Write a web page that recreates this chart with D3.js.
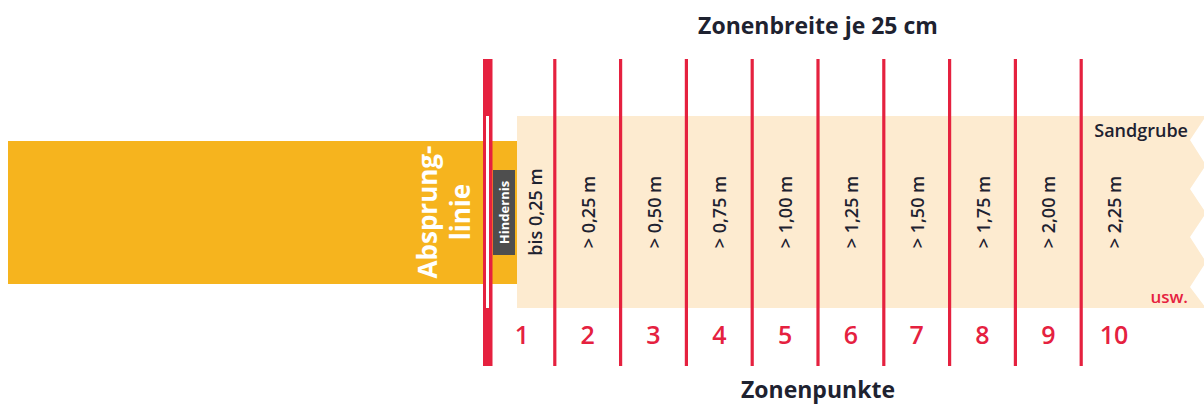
<!DOCTYPE html>
<html><head><meta charset="utf-8">
<script src="https://cdn.jsdelivr.net/npm/d3@7"></script>
<style>html,body{margin:0;padding:0;background:#fff;}svg{display:block;}</style>
</head><body>
<svg id="c" width="1204" height="406"></svg>
<script>
const zones = [1,2,3,4,5,6,7,8,9,10];
const zoneLabels = ["bis 0,25 m","> 0,25 m","> 0,50 m","> 0,75 m","> 1,00 m","> 1,25 m","> 1,50 m","> 1,75 m","> 2,00 m","> 2,25 m"];
const boundaries = [1,2,3,4,5,6,7,8,9];
const title = "Zonenbreite je 25 cm";
const subtitle = "Zonenpunkte";
const takeoffLines = ["Absprung-","linie"];
const obstacle = "Hindernis";
const pitLabel = "Sandgrube";
const moreLabel = "usw.";

const RED = "#e5213f", YELLOW = "#f6b41e", PEACH = "#fdebd0", DARK = "#1e2230", GREY = "#4e4e4e";
const FONT = "'Open Sans', 'Noto Sans', sans-serif";

const svg = d3.select("#c");
const x = d3.scaleLinear().domain([0,10]).range([489,1147]);
const y = d3.scaleLinear().domain([0,1]).range([116,308]); // sand pit vertical extent

// runway (yellow)
svg.append("rect").attr("x",8).attr("y",141).attr("width",x(0)+28-8).attr("height",143).attr("fill",YELLOW);

// sand pit with zigzag right edge
const pitL = x(0)+28, pitR = 1206, notch = 1190;
const zig = [[pitL,y(0)],[pitR,y(0)],[notch,140],[pitR,165],[notch,189],[pitR,213],[notch,237],[pitR,262],[notch,287],[pitR,y(1)],[pitL,y(1)]];
svg.append("path").attr("d", d3.line()(zig)+"Z").attr("fill",PEACH);

// take-off line (thick red) with white inner strip
svg.append("rect").attr("x",x(0)-6).attr("y",59).attr("width",9.5).attr("height",307).attr("fill",RED);
svg.append("rect").attr("x",x(0)-3).attr("y",y(0)).attr("width",3).attr("height",y(1)-y(0)).attr("fill","#fff");

// zone boundary lines
svg.selectAll("line.b").data(boundaries).join("line")
  .attr("x1",d=>x(d)).attr("x2",d=>x(d)).attr("y1",59).attr("y2",366)
  .attr("stroke",RED).attr("stroke-width",3.2);

// zone range labels (rotated)
svg.selectAll("text.z").data(zones).join("text")
  .attr("transform",(d,i)=>`translate(${x(d-0.5)+(i===0?13:0)},212) rotate(-90)`)
  .attr("text-anchor","middle").attr("dominant-baseline","central")
  .attr("font-family",FONT).attr("font-weight",600).attr("font-size",18).attr("fill",DARK)
  .text((d,i)=>zoneLabels[i]);

// zone points
svg.selectAll("text.n").data(zones).join("text")
  .attr("x",d=>x(d-0.5)).attr("y",344)
  .attr("text-anchor","middle")
  .attr("font-family",FONT).attr("font-weight",600).attr("font-size",25).attr("fill",RED)
  .text(d=>d);

// obstacle box
svg.append("rect").attr("x",x(0)+4).attr("y",170).attr("width",22).attr("height",85).attr("fill",GREY);
svg.append("text").attr("transform",`translate(${x(0)+15},212.5) rotate(-90)`)
  .attr("text-anchor","middle").attr("dominant-baseline","central")
  .attr("font-family",FONT).attr("font-weight",700).attr("font-size",13).attr("fill","#fff")
  .text(obstacle);

// take-off text
svg.selectAll("text.t").data(takeoffLines).join("text")
  .attr("transform",(d,i)=>`translate(${427+i*33},212) rotate(-90)`)
  .attr("text-anchor","middle").attr("dominant-baseline","central")
  .attr("font-family",FONT).attr("font-weight",700).attr("font-size",26).attr("fill","#fff")
  .text(d=>d);

// titles
svg.append("text").attr("x",818).attr("y",34).attr("text-anchor","middle")
  .attr("font-family",FONT).attr("font-weight",700).attr("font-size",23).attr("fill",DARK).text(title);
svg.append("text").attr("x",818).attr("y",398).attr("text-anchor","middle")
  .attr("font-family",FONT).attr("font-weight",700).attr("font-size",23).attr("fill",DARK).text(subtitle);

// pit labels
svg.append("text").attr("x",1188).attr("y",137).attr("text-anchor","end")
  .attr("font-family",FONT).attr("font-weight",600).attr("font-size",18).attr("fill",DARK).text(pitLabel);
svg.append("text").attr("x",1188).attr("y",303).attr("text-anchor","end")
  .attr("font-family",FONT).attr("font-weight",600).attr("font-size",17).attr("fill",RED).text(moreLabel);
</script>
</body></html>
